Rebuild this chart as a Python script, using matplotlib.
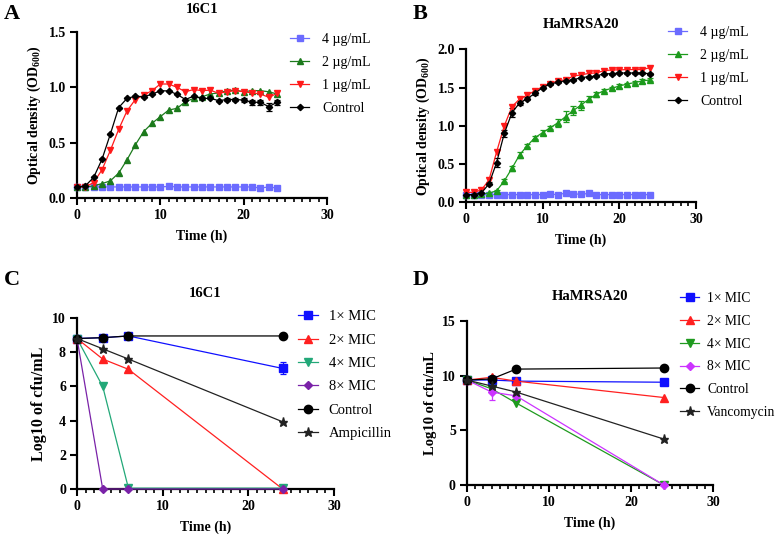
import matplotlib
matplotlib.use("Agg")
import matplotlib.pyplot as plt
from matplotlib.ticker import MultipleLocator, FormatStrFormatter

plt.rcParams["font.family"] = ["Liberation Serif", "DejaVu Serif"]
plt.rcParams["mathtext.fontset"] = "custom"
plt.rcParams["mathtext.rm"] = "Liberation Serif:bold"
plt.rcParams["mathtext.bf"] = "Liberation Serif:bold"

# ---- panel A / B data (growth curves, hourly 0..24) ----
hours = list(range(25))

a_4ug = [0.10, 0.10, 0.10, 0.10, 0.10, 0.10, 0.10, 0.10, 0.10, 0.10, 0.10, 0.105, 0.10,
         0.10, 0.10, 0.10, 0.10, 0.10, 0.10, 0.10, 0.10, 0.10, 0.09, 0.10, 0.09]
a_2ug = [0.10, 0.10, 0.11, 0.13, 0.155, 0.225, 0.345, 0.48, 0.60, 0.675, 0.735, 0.795, 0.81,
         0.87, 0.90, 0.915, 0.94, 0.95, 0.97, 0.975, 0.96, 0.97, 0.97, 0.96, 0.94]
a_1ug = [0.10, 0.10, 0.14, 0.255, 0.43, 0.62, 0.787, 0.89, 0.93, 0.97, 1.03, 1.03, 1.00,
         0.96, 0.98, 0.97, 0.975, 0.945, 0.96, 0.97, 0.96, 0.95, 0.94, 0.91, 0.945]
a_ctrl = [0.10, 0.11, 0.186, 0.35, 0.577, 0.817, 0.90, 0.92, 0.915, 0.937, 0.97, 0.967, 0.937,
          0.89, 0.92, 0.90, 0.90, 0.88, 0.89, 0.89, 0.885, 0.865, 0.865, 0.825, 0.865]
a_ctrl_err = [0, 0, 0, 0, 0, 0, 0, 0, 0, 0, 0, 0, 0,
              0, 0, 0, 0, 0, 0.01, 0.01, 0.015, 0.025, 0.025, 0.035, 0.025]

b_4ug = [0.10, 0.10, 0.10, 0.10, 0.10, 0.10, 0.10, 0.10, 0.10, 0.10, 0.10, 0.105, 0.10,
         0.12, 0.11, 0.105, 0.115, 0.10, 0.10, 0.10, 0.10, 0.10, 0.10, 0.10, 0.10]
b_2ug = [0.10, 0.10, 0.11, 0.12, 0.15, 0.28, 0.445, 0.62, 0.74, 0.845, 0.91, 0.975, 1.04,
         1.12, 1.20, 1.27, 1.345, 1.41, 1.46, 1.49, 1.52, 1.545, 1.565, 1.585, 1.60]
b_2ug_err = [0, 0, 0, 0, 0.01, 0.02, 0.03, 0.04, 0.02, 0.02, 0.03, 0.02, 0.05,
             0.07, 0.06, 0.06, 0.04, 0.03, 0.02, 0.02, 0.02, 0.02, 0.02, 0.02, 0.02]
b_1ug = [0.13, 0.13, 0.16, 0.29, 0.66, 1.00, 1.25, 1.35, 1.40, 1.46, 1.51, 1.55, 1.59,
         1.60, 1.65, 1.665, 1.685, 1.69, 1.72, 1.73, 1.73, 1.735, 1.735, 1.735, 1.76]
b_ctrl = [0.10, 0.10, 0.12, 0.24, 0.52, 0.90, 1.17, 1.30, 1.355, 1.425, 1.50, 1.545, 1.57,
          1.59, 1.60, 1.63, 1.64, 1.65, 1.68, 1.68, 1.69, 1.69, 1.69, 1.69, 1.68]
b_ctrl_err = [0, 0, 0, 0.02, 0.06, 0.05, 0.06, 0.03, 0.02, 0.02, 0.01, 0.01, 0.01,
              0.01, 0.01, 0.01, 0.01, 0.01, 0.01, 0.01, 0.01, 0.01, 0.01, 0.01, 0.01]

# ---- panel C / D data (time-kill, 0/3/6/24 h) ----
kill_t = [0, 3, 6, 24]

c_1x = [8.8, 8.85, 8.95, 7.05]
c_1x_err = [0, 0, 0, 0.35]
c_2x = [8.8, 7.6, 7.0, 0.0]
c_4x = [8.8, 6.0, 0.05, 0.05]
c_8x = [8.8, 0.0, 0.0, 0.0]
c_ctrl = [8.8, 8.85, 8.95, 8.95]
c_amp = [8.8, 8.2, 7.6, 3.93]

d_1x = [9.6, 9.6, 9.5, 9.4]
d_2x = [9.6, 9.85, 9.5, 8.0]
d_4x = [9.6, 8.8, 7.5, 0.0]
d_8x = [9.6, 8.5, 8.15, 0.0]
d_8x_err = [0, 0.7, 0.2, 0]
d_ctrl = [9.6, 9.7, 10.6, 10.7]
d_vanc = [9.6, 9.05, 8.5, 4.2]

growth_labels = ["4 µg/mL", "2 µg/mL", "1 µg/mL", "Control"]
c_labels = ["1× MIC", "2× MIC", "4× MIC", "8× MIC", "Control", "Ampicillin"]
d_labels = ["1× MIC", "2× MIC", "4× MIC", "8× MIC", "Control", "Vancomycin"]

fig = plt.figure(figsize=(7.77, 5.35), dpi=100)


def style_axes(ax, ymax, ystep, yfmt):
    for s in ["top", "right"]:
        ax.spines[s].set_visible(False)
    for s in ["left", "bottom"]:
        ax.spines[s].set_linewidth(1.6)
    ax.set_xlim(0, 30)
    ax.set_ylim(0, ymax)
    ax.xaxis.set_major_locator(MultipleLocator(10))
    ax.xaxis.set_minor_locator(MultipleLocator(1))
    ax.yaxis.set_major_locator(MultipleLocator(ystep))
    ax.yaxis.set_major_formatter(FormatStrFormatter(yfmt))
    ax.tick_params(axis="both", which="major", width=1.5, length=5, labelsize=10, pad=3)
    ax.tick_params(axis="x", which="minor", width=1.2, length=3)
    for lab in ax.get_xticklabels() + ax.get_yticklabels():
        lab.set_fontweight("bold")
    ax.set_xlabel("Time (h)", fontsize=10, fontweight="bold", labelpad=5)


def line(ax, x, y, color, marker, ms, err=None, lw=0.9):
    c = ax.errorbar(x, y, yerr=err, color=color, marker=marker, markersize=ms, lw=lw,
                    elinewidth=0.9, capsize=2.5, capthick=0.9, clip_on=False, zorder=3)
    return c[0]


def legend(ax, handles, labels, x, y, fs, spacing, pad=0.9):
    ax.legend(handles, labels, loc="upper left", bbox_to_anchor=(x / 777, 1 - y / 535),
              bbox_transform=fig.transFigure, frameon=False, fontsize=fs,
              handlelength=1.4, handletextpad=pad, labelspacing=spacing, borderpad=0,
              borderaxespad=0)


# panel A
axA = fig.add_axes([0.0991, 0.6299, 0.3218, 0.3103])
hA = [line(axA, hours, a_4ug, "#6b6bff", "s", 4.5),
      line(axA, hours, a_2ug, "#1c7a1c", "^", 4.5),
      line(axA, hours, a_1ug, "#ff1a1a", "v", 4.5),
      line(axA, hours, a_ctrl, "black", "D", 3.2, err=a_ctrl_err)]
style_axes(axA, 1.5, 0.5, "%.1f")
axA.set_ylabel("Optical density (OD$_{600}$)", fontsize=10, fontweight="bold")
axA.set_title("16C1", fontsize=10.5, fontweight="bold", pad=14)
legend(axA, hA, growth_labels, 290, 33, 10, 0.72)

# panel B
axB = fig.add_axes([0.5997, 0.6219, 0.296, 0.286])
hB = [line(axB, hours, b_4ug, "#6b6bff", "s", 4.5),
      line(axB, hours, b_2ug, "#1c9a1c", "^", 4.5, err=b_2ug_err),
      line(axB, hours, b_1ug, "#ff1a1a", "v", 4.5),
      line(axB, hours, b_ctrl, "black", "D", 3.2, err=b_ctrl_err)]
style_axes(axB, 2.0, 0.5, "%.1f")
axB.set_ylabel("Optical density (OD$_{600}$)", fontsize=10, fontweight="bold")
axB.set_title("HaMRSA20", fontsize=10.5, fontweight="bold", pad=15)
legend(axB, hB, growth_labels, 668, 26, 10, 0.72)

# panel C
axC = fig.add_axes([0.0991, 0.086, 0.3308, 0.3196])
hC = [line(axC, kill_t, c_1x, "#1010ff", "s", 6, err=c_1x_err),
      line(axC, kill_t, c_2x, "#ff2020", "^", 5.5),
      line(axC, kill_t, c_4x, "#22a878", "v", 5.5),
      line(axC, kill_t, c_8x, "#7a22a8", "D", 4),
      line(axC, kill_t, c_ctrl, "black", "o", 6),
      line(axC, kill_t, c_amp, "#222222", "*", 6.5)]
style_axes(axC, 10, 2, "%d")
axC.set_ylabel("Log10 of cfu/mL", fontsize=11.5, fontweight="bold")
axC.set_title("16C1", fontsize=10.5, fontweight="bold", pad=15)
legend(axC, hC, c_labels, 298, 310, 10.5, 0.7, pad=0.7)

# panel D
axD = fig.add_axes([0.601, 0.0935, 0.3166, 0.3065])
hD = [line(axD, kill_t, d_1x, "#1010ff", "s", 6),
      line(axD, kill_t, d_2x, "#ff2020", "^", 5.5),
      line(axD, kill_t, d_4x, "#1f9a1f", "v", 5.5),
      line(axD, kill_t, d_8x, "#cc33ff", "D", 4, err=d_8x_err),
      line(axD, kill_t, d_ctrl, "black", "o", 6),
      line(axD, kill_t, d_vanc, "#222222", "*", 6.5)]
style_axes(axD, 15, 5, "%d")
axD.set_ylabel("Log10 of cfu/mL", fontsize=10.5, fontweight="bold")
axD.set_title("HaMRSA20", fontsize=10.5, fontweight="bold", pad=15)
legend(axD, hD, d_labels, 680, 292, 9.8, 0.72, pad=0.6)

# panel letters
for letter, x, y in [("A", 4, 4), ("B", 413, 4), ("C", 4, 270), ("D", 413, 270)]:
    fig.text(x / 777, 1 - y / 535, letter, fontsize=16, fontweight="bold",
             ha="left", va="top")

fig.savefig("out.png", dpi=100)
